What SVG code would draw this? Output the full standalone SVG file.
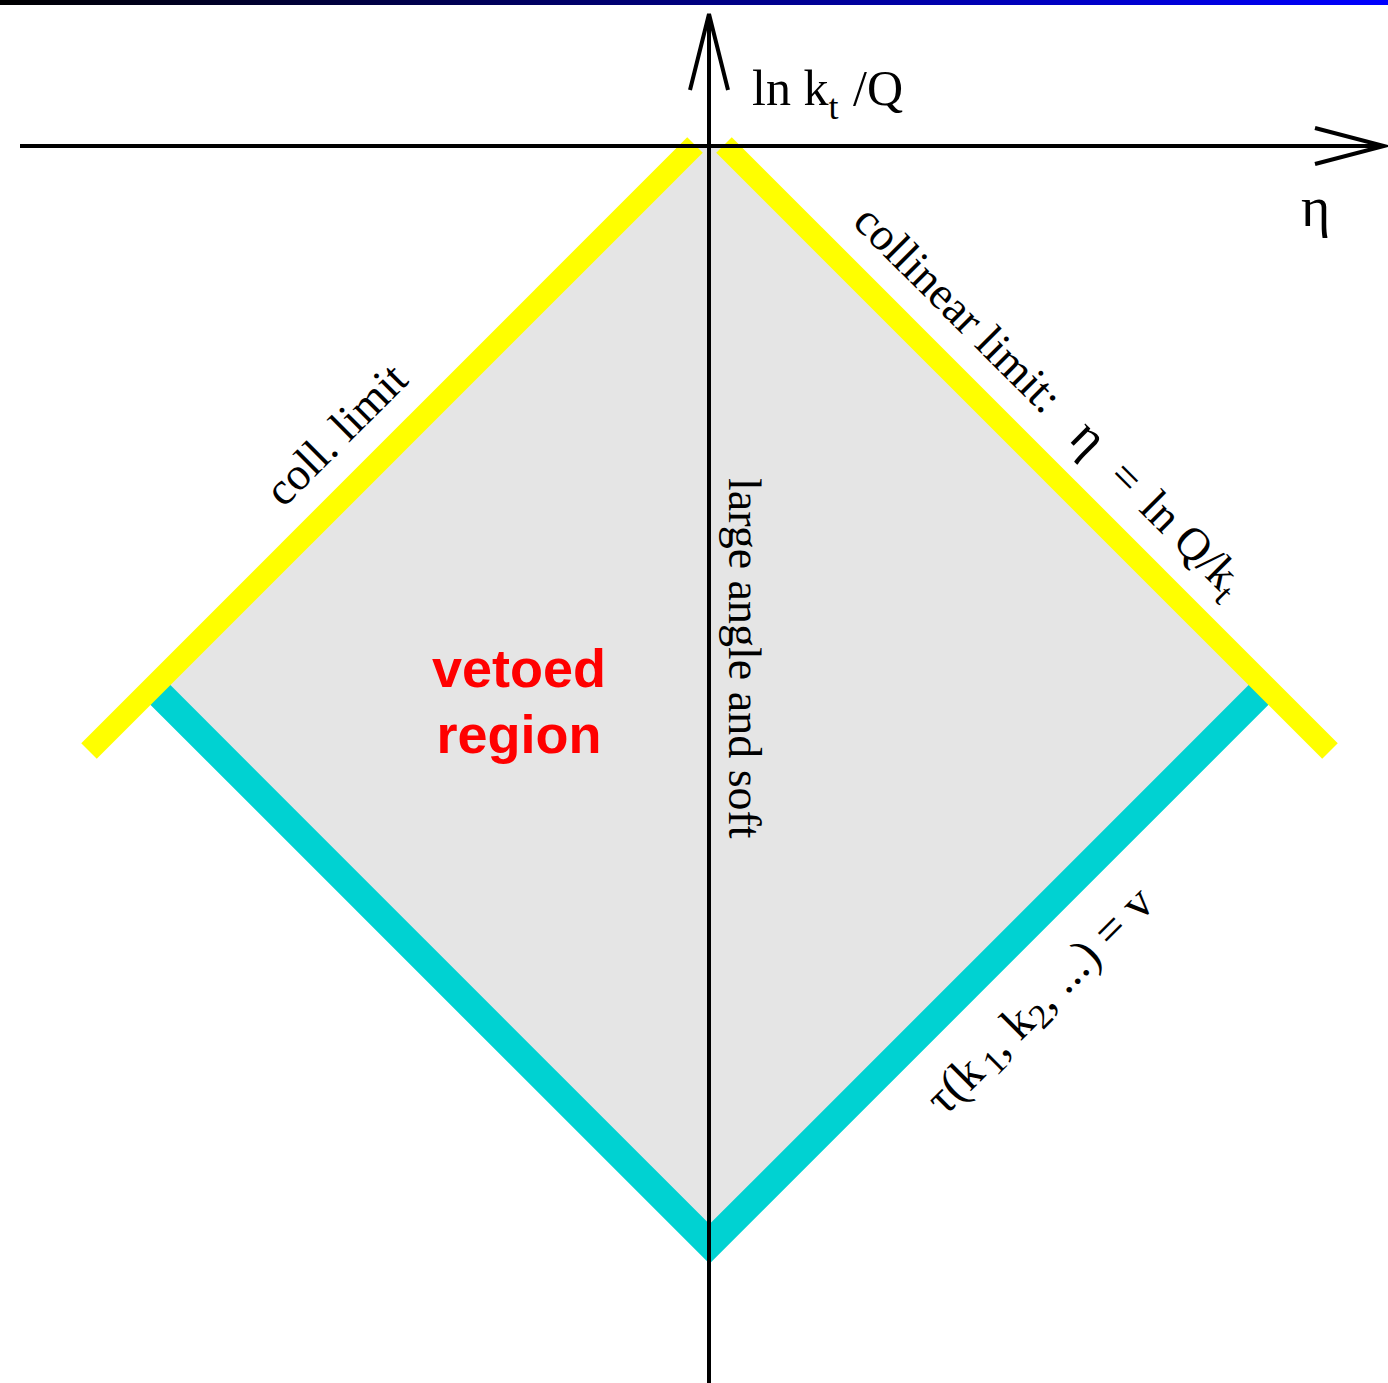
<svg xmlns="http://www.w3.org/2000/svg" width="1388" height="1383" viewBox="0 0 1388 1383">
<defs>
<linearGradient id="topbar" x1="0" y1="0" x2="1" y2="0">
<stop offset="0" stop-color="#000000"/>
<stop offset="1" stop-color="#0000ff"/>
</linearGradient>
</defs>
<style>
.serif{font-family:"Liberation Serif","Times New Roman",serif;fill:#000}
.axis{stroke:#000;stroke-width:4;fill:none}
.yellow{stroke:#ffff00;stroke-width:22;fill:none;stroke-linecap:butt}
.cyan{stroke:#00d2d2;stroke-width:28;fill:none;stroke-linejoin:miter;stroke-linecap:butt}
.veto{font-family:"Liberation Sans",Arial,sans-serif;font-weight:bold;font-size:54px;fill:#ff0000}
</style>
<rect x="0" y="0" width="1388" height="1383" fill="#ffffff"/>
<rect id="topbar-rect" x="0" y="0" width="1388" height="5" fill="url(#topbar)"/>
<g id="vetoed-region">
<polygon points="694.5,146 724.5,146 1266.25,687.25 709.5,1244 152.75,687.25" fill="#e5e5e5"/>
</g>
<g id="connectors">
<polyline class="cyan" points="152.75,687.25 709.5,1244 1266.25,687.25"/>
<line class="yellow" x1="695" y1="145" x2="89" y2="751"/>
<line class="yellow" x1="724" y1="145" x2="1330" y2="751"/>
<line class="axis" x1="709" y1="14" x2="709" y2="1383"/>
<line class="axis" x1="20" y1="146" x2="1382" y2="146"/>
<polyline class="axis" points="690,90 709,14 728,90"/>
<polyline class="axis" points="1315,128 1384,146 1315,164"/>
</g>
<g id="labels">
<text class="serif" x="752" y="105" font-size="50">ln k<tspan font-size="36" dy="14">t</tspan><tspan x="853" dy="-14">/Q</tspan></text>
<text class="serif" x="1301" y="226" font-size="56">η</text>
<text class="serif" transform="rotate(45)" x="760" y="-444" font-size="46">collinear limit:</text>
<text class="serif" transform="rotate(45)" y="-444" font-size="46"><tspan x="1066" font-size="52">η</tspan><tspan x="1121">=</tspan><tspan x="1165">ln Q/k</tspan><tspan font-size="34" dy="10">t</tspan></text>
<text class="serif" transform="rotate(-45)" x="-159" y="560" font-size="46">coll. limit</text>
<text class="serif" transform="rotate(90)" x="478" y="-729" font-size="46">large angle and soft</text>
<text class="serif" transform="rotate(-45)" x="-122" y="1458" font-size="48">τ(k<tspan font-size="35" dx="6" dy="8">1</tspan><tspan dy="-8">, k</tspan><tspan font-size="35" dy="8">2</tspan><tspan dy="-8">, ...) = v</tspan></text>
<text class="veto" x="519" y="687" text-anchor="middle">vetoed</text>
<text class="veto" x="519" y="753" text-anchor="middle">region</text>
</g>
</svg>
